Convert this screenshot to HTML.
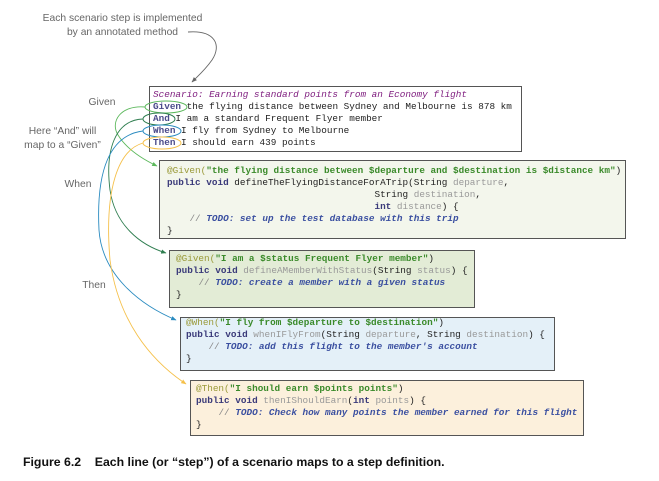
<!DOCTYPE html>
<html><head><meta charset="utf-8"><style>
body{margin:0;width:659px;height:481px;background:#fff;position:relative;overflow:hidden;font-family:"Liberation Sans",sans-serif}
.box{position:absolute;border:1.3px solid #555;box-sizing:border-box}
.code{font-family:"Liberation Mono",monospace;font-size:9.35px;line-height:12px;white-space:pre;position:absolute;color:#222}
.an{color:#9a9a3a}.st{color:#3a8a2a;font-weight:bold}.kw{color:#3a3a7a;font-weight:bold}.pr{color:#999}.cm{color:#3a4fa0;font-style:italic;font-weight:bold}.cs{color:#888}
.lbl{position:absolute;font-size:10.3px;color:#666;text-align:center}
.kwd{color:#4a4a8a;font-weight:bold}
</style></head><body>
<div class="lbl" style="left:20px;top:12px;width:205px;line-height:14px">Each scenario step is implemented<br>by an annotated method</div>
<div class="lbl" style="left:82px;top:97px;width:40px">Given</div>
<div class="lbl" style="left:10px;top:125px;width:105px;line-height:14px">Here “And” will<br>map to a “Given”</div>
<div class="lbl" style="left:58px;top:179px;width:40px">When</div>
<div class="lbl" style="left:74px;top:280px;width:40px">Then</div>

<div class="box" style="left:149px;top:86px;width:373px;height:66px;background:#fff"></div>
<div class="code" style="left:153px;top:89px"><span style="color:#802080;font-style:italic">Scenario: Earning standard points from an Economy flight</span>
<span class="kwd">Given</span> the flying distance between Sydney and Melbourne is 878 km
<span class="kwd">And</span> I am a standard Frequent Flyer member
<span class="kwd">When</span> I fly from Sydney to Melbourne
<span class="kwd">Then</span> I should earn 439 points</div>

<div class="box" style="left:159px;top:160px;width:467px;height:79px;background:#f3f6ec"></div>
<div class="code" style="left:167px;top:165px"><span class="an">@Given(</span><span class="st">"the flying distance between $departure and $destination is $distance km"</span>)
<span class="kw">public void</span> defineTheFlyingDistanceForATrip(String <span class="pr">departure</span>,
                                     String <span class="pr">destination</span>,
                                     <span class="kw">int</span> <span class="pr">distance</span>) {
    <span class="cs">//</span> <span class="cm">TODO: set up the test database with this trip</span>
}</div>

<div class="box" style="left:169px;top:250px;width:306px;height:58px;background:#e3ecd6"></div>
<div class="code" style="left:176px;top:253px"><span class="an">@Given(</span><span class="st">"I am a $status Frequent Flyer member"</span>)
<span class="kw">public void</span> <span class="pr">defineAMemberWithStatus</span>(String <span class="pr">status</span>) {
    <span class="cs">//</span> <span class="cm">TODO: create a member with a given status</span>
}</div>

<div class="box" style="left:180px;top:317px;width:375px;height:54px;background:#e4f0f8"></div>
<div class="code" style="left:186px;top:317px"><span class="an">@When(</span><span class="st">"I fly from $departure to $destination"</span>)
<span class="kw">public void</span> <span class="pr">whenIFlyFrom</span>(String <span class="pr">departure</span>, String <span class="pr">destination</span>) {
    <span class="cs">//</span> <span class="cm">TODO: add this flight to the member's account</span>
}</div>

<div class="box" style="left:190px;top:380px;width:394px;height:56px;background:#fcf0dc"></div>
<div class="code" style="left:196px;top:383px"><span class="an">@Then(</span><span class="st">"I should earn $points points"</span>)
<span class="kw">public void</span> <span class="pr">thenIShouldEarn</span>(<span class="kw">int</span> <span class="pr">points</span>) {
    <span class="cs">//</span> <span class="cm">TODO: Check how many points the member earned for this flight</span>
}</div>

<svg width="659" height="481" style="position:absolute;left:0;top:0" fill="none">
<defs>
<marker id="a" viewBox="0 0 10 10" refX="9" refY="5" markerWidth="6" markerHeight="6" orient="auto"><path d="M0,1 L10,5 L0,9z" fill="context-stroke" stroke="none"/></marker>
</defs>
<path d="M188,32 C215,30 222,45 212,60 C205,70 198,76 192,82" stroke="#666" stroke-width="0.9" marker-end="url(#a)"/>
<ellipse cx="166" cy="107" rx="21" ry="6" stroke="#5cb85c" stroke-width="1"/>
<ellipse cx="159" cy="119" rx="16" ry="6" stroke="#2e7d4f" stroke-width="1"/>
<ellipse cx="162" cy="131" rx="19" ry="6" stroke="#2a8bc0" stroke-width="1"/>
<ellipse cx="162" cy="143" rx="19" ry="6" stroke="#f5c04a" stroke-width="1"/>
<path d="M145,107 C120,105 110,122 118,135 C126,148 140,158 157,166" stroke="#5cb85c" stroke-width="0.9" marker-end="url(#a)"/>
<path d="M143,119 C115,120 105,150 110,190 C115,225 140,245 166,253" stroke="#2e7d4f" stroke-width="0.9" marker-end="url(#a)"/>
<path d="M143,131 C110,135 96,170 99,230 C102,275 140,305 176,320" stroke="#2a8bc0" stroke-width="0.9" marker-end="url(#a)"/>
<path d="M143,143 C118,150 104,190 110,260 C118,320 150,360 186,384" stroke="#f5c04a" stroke-width="0.9" marker-end="url(#a)"/>
</svg>
<div style="position:absolute;left:23px;top:455px;font-size:12.3px;font-weight:bold;color:#111;white-space:pre">Figure 6.2    Each line (or “step”) of a scenario maps to a step definition.</div>
</body></html>
